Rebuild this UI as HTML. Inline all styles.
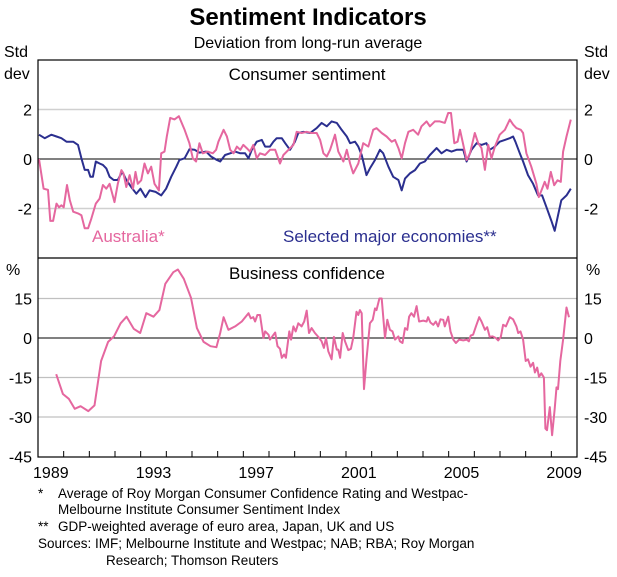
<!DOCTYPE html>
<html><head><meta charset="utf-8"><style>
body{margin:0;background:#fff;}
svg{display:block;font-family:"Liberation Sans",Arial,sans-serif;}
</style></head><body>
<svg id="chart" width="617" height="577" viewBox="0 0 617 577">
<text x="308" y="25" text-anchor="middle" font-size="24" font-weight="bold">Sentiment Indicators</text>
<text x="308" y="48" text-anchor="middle" font-size="16">Deviation from long-run average</text>
<g id="grid"></g>
<g id="series"></g>
<g id="frame"></g>
<g id="labels" font-size="16"></g>
<text x="92" y="242" font-size="17" fill="#E5679F">Australia*</text>
<text x="283" y="242" font-size="17" fill="#2B2F8F">Selected major economies**</text>
<text x="307" y="80" text-anchor="middle" font-size="17">Consumer sentiment</text>
<text x="307" y="279" text-anchor="middle" font-size="17">Business confidence</text>
<g font-size="13.5">
<text x="38" y="498">*</text><text x="58" y="498">Average of Roy Morgan Consumer Confidence Rating and Westpac-</text>
<text x="58" y="514">Melbourne Institute Consumer Sentiment Index</text>
<text x="38" y="531">**</text><text x="58" y="531">GDP-weighted average of euro area, Japan, UK and US</text>
<text x="38" y="548">Sources: IMF; Melbourne Institute and Westpac; NAB; RBA; Roy Morgan</text>
<text x="106" y="565">Research; Thomson Reuters</text>
</g>
</svg>
<script>
const ausX=[1989.04,1989.22,1989.39,1989.48,1989.59,1989.72,1989.82,1989.91,1990.0,1990.13,1990.24,1990.37,1990.56,1990.69,1990.82,1990.95,1991.08,1991.25,1991.4,1991.53,1991.66,1991.79,1991.98,1992.11,1992.25,1992.33,1992.44,1992.57,1992.7,1992.8,1992.89,1993.02,1993.15,1993.28,1993.41,1993.54,1993.71,1993.8,1993.93,1994.02,1994.15,1994.32,1994.49,1994.71,1994.9,1995.03,1995.16,1995.29,1995.42,1995.61,1995.81,1995.94,1996.03,1996.23,1996.36,1996.49,1996.62,1996.75,1996.88,1997.0,1997.13,1997.26,1997.39,1997.52,1997.65,1997.85,1998.04,1998.24,1998.43,1998.56,1998.76,1998.95,1999.08,1999.27,1999.47,1999.66,1999.86,1999.99,2000.12,2000.25,2000.38,2000.57,2000.7,2000.9,2001.03,2001.16,2001.28,2001.48,2001.67,2001.87,2002.06,2002.19,2002.39,2002.58,2002.78,2002.91,2003.04,2003.17,2003.3,2003.43,2003.62,2003.81,2003.94,2004.14,2004.27,2004.46,2004.66,2004.85,2004.98,2005.09,2005.22,2005.35,2005.44,2005.57,2005.7,2005.83,2006.02,2006.15,2006.28,2006.41,2006.54,2006.67,2006.8,2006.99,2007.19,2007.38,2007.51,2007.64,2007.81,2007.9,2008.03,2008.22,2008.42,2008.51,2008.64,2008.74,2008.85,2008.98,2009.11,2009.24,2009.37,2009.46,2009.59,2009.76];
const ausV=[0,-1.2,-1.25,-2.5,-2.5,-1.8,-1.95,-1.87,-1.95,-1.05,-1.66,-2.13,-2.2,-2.27,-2.8,-2.8,-2.4,-1.8,-1.6,-1.05,-1.2,-1.0,-1.74,-1.0,-0.45,-0.58,-1.13,-0.65,-1.2,-0.52,-1.0,-0.86,-0.18,-0.58,-0.31,-1.0,-1.27,0.23,0.3,0.91,1.66,1.6,1.73,1.18,0.64,0.03,-0.1,0.64,0.23,0.3,0.23,0.37,0.7,1.18,0.91,0.37,0.23,0.5,0.37,0.57,0.44,0.3,0.57,0.03,0.23,0.16,0.37,0.37,-0.18,0.16,0.37,0.57,1.1,1.05,1.1,1.05,1.05,0.77,0.23,0.1,0.37,0.98,0.3,-0.1,0.37,-0.18,-0.58,-0.18,0.64,0.5,1.18,1.25,1.05,0.91,0.7,0.77,0.44,0.03,0.64,1.1,1.18,0.98,1.32,1.52,1.32,1.52,1.52,1.46,1.86,1.86,0.64,0.7,1.18,0.57,-0.04,0.23,1.05,0.64,0.44,-0.44,0.57,0.03,0.5,0.98,1.18,1.59,1.39,1.25,1.18,1.05,0.23,-0.31,-1.0,-1.54,-1.2,-0.92,-1.2,-0.52,-1.06,-0.86,-0.92,0.3,0.91,1.59];
const majX=[1989.04,1989.26,1989.52,1989.72,1989.91,1990.11,1990.37,1990.56,1990.69,1990.82,1990.95,1991.04,1991.14,1991.25,1991.4,1991.53,1991.66,1991.79,1991.95,1992.11,1992.28,1992.44,1992.63,1992.83,1992.99,1993.19,1993.35,1993.58,1993.8,1993.99,1994.19,1994.39,1994.51,1994.71,1994.9,1995.1,1995.29,1995.55,1995.74,1995.97,1996.1,1996.29,1996.49,1996.68,1996.88,1997.07,1997.2,1997.33,1997.52,1997.72,1997.85,1998.04,1998.17,1998.3,1998.5,1998.63,1998.82,1999.01,1999.14,1999.34,1999.6,1999.86,2000.05,2000.25,2000.44,2000.64,2000.83,2001.03,2001.16,2001.35,2001.48,2001.61,2001.8,2001.93,2002.13,2002.32,2002.45,2002.65,2002.84,2003.04,2003.17,2003.3,2003.49,2003.69,2003.88,2004.07,2004.27,2004.53,2004.72,2004.92,2005.11,2005.31,2005.57,2005.7,2005.89,2006.09,2006.28,2006.47,2006.6,2006.8,2006.99,2007.19,2007.38,2007.51,2007.6,2007.77,2007.9,2008.09,2008.29,2008.48,2008.64,2008.81,2009.0,2009.13,2009.26,2009.39,2009.59,2009.76];
const majV=[0.98,0.84,0.98,0.91,0.84,0.7,0.7,0.57,0.03,-0.44,-0.44,-0.72,-0.72,-0.1,-0.18,-0.24,-0.38,-0.72,-0.85,-0.85,-0.51,-0.85,-1.13,-1.4,-1.2,-1.54,-1.27,-1.33,-1.47,-1.2,-0.72,-0.31,-0.04,0.03,0.39,0.37,0.26,0.3,0.1,-0.04,-0.1,0.16,0.23,0.3,0.23,0.23,0.03,0.37,0.7,0.77,0.5,0.5,0.7,0.84,0.84,0.64,0.37,0.7,1.05,1.1,1.05,1.25,1.46,1.32,1.52,1.46,1.18,0.91,0.64,0.7,0.5,0.16,-0.65,-0.38,-0.04,0.37,0.23,-0.31,-0.72,-0.85,-1.27,-0.79,-0.58,-0.45,-0.18,-0.1,0.16,0.44,0.23,0.37,0.3,0.37,0.37,-0.1,0.37,0.64,0.57,0.64,0.37,0.5,0.7,0.77,0.84,0.91,0.7,0.23,-0.1,-0.65,-1.0,-1.47,-1.47,-1.95,-2.49,-2.9,-2.28,-1.67,-1.47,-1.2];
const busX=[1989.71,1989.97,1990.20,1990.43,1990.66,1990.96,1991.20,1991.46,1991.73,1991.96,1992.22,1992.45,1992.73,1992.98,1993.22,1993.50,1993.73,1993.96,1994.27,1994.45,1994.68,1994.96,1995.19,1995.45,1995.72,1995.95,1996.10,1996.23,1996.42,1996.68,1996.94,1997.2,1997.29,1997.39,1997.46,1997.55,1997.65,1997.78,1997.85,1997.98,1998.04,1998.13,1998.24,1998.33,1998.43,1998.5,1998.59,1998.66,1998.79,1998.86,1998.95,1999.04,1999.14,1999.27,1999.37,1999.47,1999.56,1999.66,1999.79,1999.92,2000.05,2000.14,2000.22,2000.31,2000.44,2000.53,2000.64,2000.7,2000.77,2000.87,2000.96,2001.09,2001.19,2001.28,2001.41,2001.48,2001.54,2001.61,2001.7,2001.8,2001.93,2002.04,2002.13,2002.19,2002.3,2002.39,2002.52,2002.61,2002.71,2002.81,2002.91,2003.04,2003.1,2003.2,2003.3,2003.39,2003.46,2003.55,2003.65,2003.75,2003.85,2004.01,2004.14,2004.2,2004.29,2004.4,2004.5,2004.59,2004.68,2004.79,2004.85,2004.98,2005.07,2005.18,2005.28,2005.41,2005.57,2005.7,2005.79,2005.86,2005.95,2006.06,2006.19,2006.28,2006.41,2006.5,2006.6,2006.71,2006.84,2006.93,2007.03,2007.12,2007.23,2007.38,2007.51,2007.64,2007.71,2007.8,2007.9,2008.0,2008.09,2008.19,2008.29,2008.36,2008.45,2008.52,2008.61,2008.71,2008.77,2008.83,2008.94,2009.03,2009.13,2009.2,2009.26,2009.35,2009.46,2009.59,2009.69];
const busV=[-13.75,-21.25,-23.1,-26.9,-25.9,-27.75,-25.6,-8.75,-1.5,0.6,5.6,8.1,3.5,1.9,9.4,8.1,10.6,20.6,25,26,22.5,15.25,3.75,-1.5,-3.1,-3.5,1.9,7.9,3.1,4.4,6.25,9.4,7.5,7.9,6.25,8.75,8.75,0,2.5,1.25,-0.6,0.6,2.1,-3.1,-4.1,-7.5,-6.25,-7.5,2.5,-0.6,4.4,2.5,5.6,4.4,6.25,10.4,1.9,3.75,1.9,0.4,-1.25,-3.75,0,-5,-8.1,0.4,-4.4,-4.4,-7.5,1.9,-1.25,-4.6,-4.1,0,10,8.75,10.6,9.4,-19.4,-8.1,5.6,6.9,11.25,10.6,15,15,0,6.9,3.1,2.5,-0.6,0.6,-1.25,-1.9,3.75,3.1,8.1,9.4,8.1,12.1,6.25,6.6,6.25,7.9,5.9,5,6.25,4.4,7.1,6.9,4.4,8.1,2.5,-0.6,-1.9,-0.6,-0.9,-0.6,-1.25,0.9,1.25,4.4,7.9,6.25,3.1,4.1,0.4,0.6,0,-0.9,0.4,5,4.4,7.9,7.1,4.4,1.9,2.5,-0.6,-8.75,-8.1,-10.9,-9.4,-13.1,-11.25,-14.75,-13.4,-15,-34.4,-35,-26.25,-36.9,-26.9,-18.75,-19.4,-8.75,-0.6,11.6,7.9];
const topTicks=[2,0,-2];
const botTicks=[15,0,-15,-30,-45];
const yearLabels=[1989,1993,1997,2001,2005,2009];

const NS="http://www.w3.org/2000/svg";
const L=38,R=577,T=60,MID=258,B=457,X0=1989,X1=2010;
const xs=y=>L+(y-X0)/(X1-X0)*(R-L);
const ys1=v=>159-v*24.75;
const ys2=v=>338-v*(39.5/15);
function mk(tag,attrs,parent){const e=document.createElementNS(NS,tag);for(const k in attrs)e.setAttribute(k,attrs[k]);parent.appendChild(e);return e;}
const grid=document.getElementById('grid'),ser=document.getElementById('series'),frame=document.getElementById('frame'),lab=document.getElementById('labels');

topTicks.forEach(v=>{
  const ln=mk('line',{x1:L,x2:R,y1:ys1(v),y2:ys1(v),stroke:v===0?'#000':'#d0d0d0','stroke-width':v===0?1:1.5},grid);
  
  
  const t1=mk('text',{x:32,y:ys1(v)+6,'text-anchor':'end'},lab);t1.textContent=v;
  
  
  const t2=mk('text',{x:584,y:ys1(v)+6},lab);t2.textContent=v;
  
  
});
botTicks.forEach(v=>{
  if(v!==-45){
    const ln=mk('line',{x1:L,x2:R,y1:ys2(v),y2:ys2(v),stroke:v===0?'#000':'#c0c0c0','stroke-width':v===0?1:1.2},grid);
    
    
  }
  const t1=mk('text',{x:32,y:ys2(v)+6,'text-anchor':'end'},lab);t1.textContent=v;
  
  
  const t2=mk('text',{x:584,y:ys2(v)+6},lab);t2.textContent=v;
  
  
});
[['Std',4,57],['dev',4,79],['%',6,275]].forEach(a=>{const t=mk('text',{x:a[1],y:a[2]},lab);t.textContent=a[0];
  
  });
[['Std',584,57],['dev',584,79],['%',586,275]].forEach(a=>{const t=mk('text',{x:a[1],y:a[2]},lab);t.textContent=a[0];
  
  });
yearLabels.forEach(y=>{const t=mk('text',{x:xs(y+0.5),y:478,'text-anchor':'middle'},lab);t.textContent=y;
  
  });
for(let y=X0+1;y<X1;y++){const tk=mk('line',{x1:xs(y),x2:xs(y),y1:B,y2:B-6,stroke:'#000','stroke-width':1},frame);
  
  }

function path(X,V,sy,color,name){
  const d=X.map((x,i)=>(i?'L':'M')+xs(x).toFixed(1)+','+sy(V[i]).toFixed(1)).join('');
  const p=mk('path',{d:d,fill:'none',stroke:color,'stroke-width':2,'stroke-linejoin':'round'},ser);
  
  
}
path(majX,majV,ys1,'#2B2F8F','major-economies-line');
path(ausX,ausV,ys1,'#E5679F','australia-consumer-line');
path(busX,busV,ys2,'#E5679F','business-confidence-line');

const box=mk('rect',{x:L,y:T,width:R-L,height:B-T,fill:'none',stroke:'#000','stroke-width':1.2},frame);


const dv=mk('line',{x1:L,x2:R,y1:MID,y2:MID,stroke:'#000','stroke-width':1.2},frame);


</script>
</body></html>
